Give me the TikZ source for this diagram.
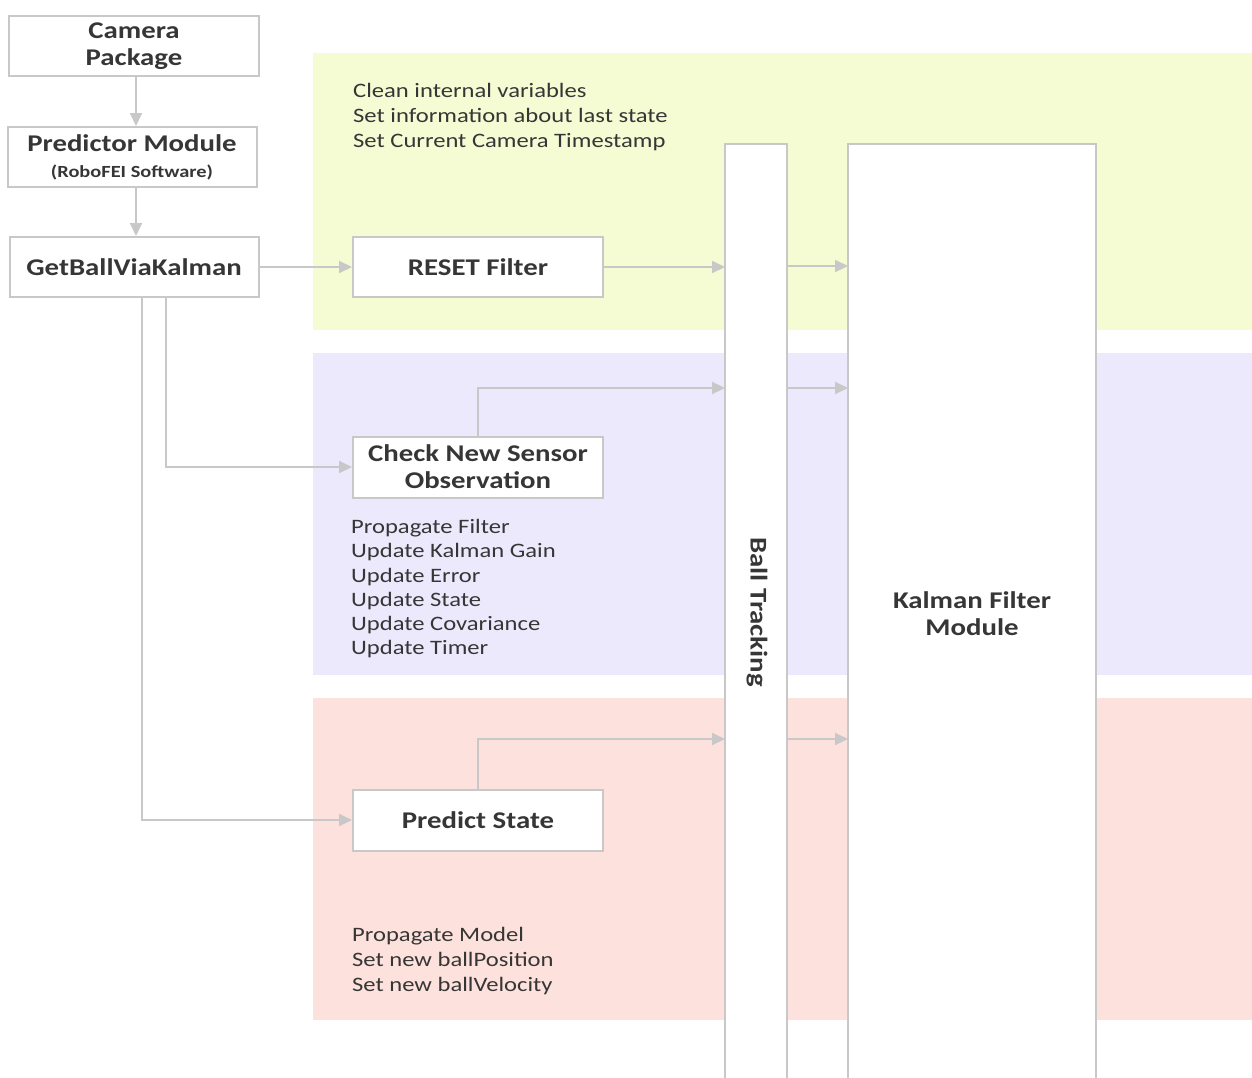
\documentclass[tikz,border=0pt]{standalone}
\usepackage{fontspec}
\setmainfont[FakeStretch=1.2]{Carlito}
\usetikzlibrary{arrows.meta}
\definecolor{lgray}{HTML}{C8C8C8}
\definecolor{tgray}{HTML}{363636}
\definecolor{bandY}{HTML}{F5FBD3}
\definecolor{bandP}{HTML}{ECE9FD}
\definecolor{bandR}{HTML}{FDE1DC}
\tikzset{
  box/.style={draw=lgray, line width=2pt, fill=white, inner sep=0pt, text=tgray, font=\fontsize{24}{27}\selectfont\bfseries, align=center},
  note/.style={anchor=north west, inner sep=0pt, text=tgray, font=\fontsize{20.5}{25}\selectfont, align=left},
  conn/.style={draw=lgray, line width=2pt, -{Triangle[length=13pt,width=12pt]}},
  plain/.style={draw=lgray, line width=2pt},
}
\begin{document}
\begin{tikzpicture}[x=1pt,y=-1pt]
\useasboundingbox (0,0) rectangle (1252,1077);
% bands
\fill[bandY] (313,53) rectangle (1252,330);
\fill[bandP] (313,353) rectangle (1252,675);
\fill[bandR] (313,698) rectangle (1252,1020);
% tall columns
\fill[white] (725,144) rectangle (787,1077);
\fill[white] (848,144) rectangle (1096,1077);
\draw[plain] (725,1080) |- (787,144) -- (787,1080);
\draw[plain] (848,1080) |- (1096,144) -- (1096,1080);
\coordinate (bt267) at (725,267);
\coordinate (bt388) at (725,388);
\coordinate (bt739) at (725,739);
\node[text=tgray, font=\fontsize{24}{26}\selectfont\bfseries, rotate=-90] (ball) at (757,612) {Ball Tracking};
\node[text=tgray, font=\fontsize{24}{27}\selectfont\bfseries, align=center] (kfm) at (972,614) {Kalman Filter\\Module};
% left boxes
\node[box, minimum width=250pt, minimum height=60pt] (cam) at (134,46) {Camera\\Package};
\node[box, minimum width=249pt, minimum height=60pt] (pred) at (132,157) {Predictor Module\\[-1pt]{\fontsize{17}{17}\selectfont(RoboFEI Software)}};
\node[box, minimum width=249pt, minimum height=60pt] (get) at (134,267) {GetBallViaKalman};
% middle boxes
\node[box, minimum width=250pt, minimum height=60pt] (reset) at (478,267) {RESET Filter};
\node[box, minimum width=250pt, minimum height=61pt] (check) at (478,467) {Check New Sensor\\Observation};
\node[box, minimum width=250pt, minimum height=61pt] (pstate) at (478,820) {Predict State};
% notes
\node[note] (n1) at (353,83) {Clean internal variables\\Set information about last state\\Set Current Camera Timestamp};
\node[note, font=\fontsize{20.5}{24.3}\selectfont] (n2) at (351,519) {Propagate Filter\\Update Kalman Gain\\Update Error\\Update State\\Update Covariance\\Update Timer};
\node[note] (n3) at (352,927) {Propagate Model\\Set new ballPosition\\Set new ballVelocity};
% connectors
\draw[conn] (cam.south -| 136,0) -- (pred.north -| 136,0);
\draw[conn] (pred.south -| 136,0) -- (get.north -| 136,0);
\draw[conn] (get.east) -- (reset.west);
\draw[conn] (get.south -| 166,0) |- (check.west);
\draw[conn] (get.south -| 142,0) |- (pstate.west);
\draw[conn] (reset.east) -- (bt267);
\draw[conn] (check.north) |- (bt388);
\draw[conn] (pstate.north) |- (bt739);
\coordinate (k266) at (848,266);
\coordinate (k388) at (848,388);
\coordinate (k739) at (848,739);
\draw[conn] (787,266) -- (k266);
\draw[conn] (787,388) -- (k388);
\draw[conn] (787,739) -- (k739);
\end{tikzpicture}
\end{document}
